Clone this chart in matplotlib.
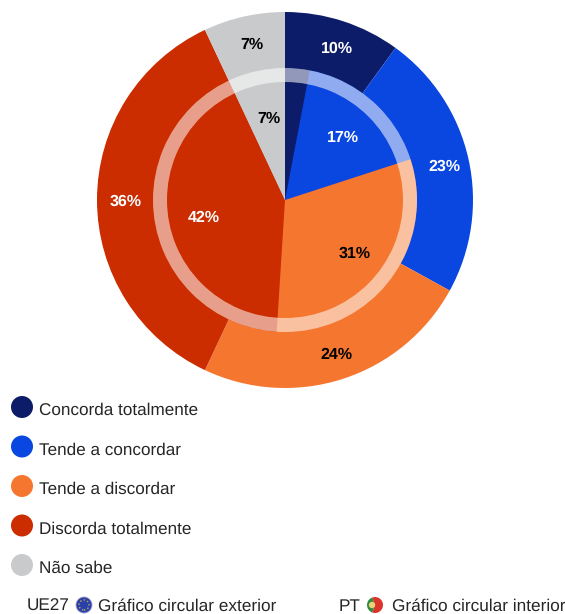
#!/usr/bin/env python

import matplotlib
matplotlib.use('Agg')
import matplotlib.pyplot as plt
from matplotlib.patches import Circle, Wedge

plt.rcParams['font.family'] = ['Liberation Sans', 'DejaVu Sans']
plt.rcParams['text.hinting'] = 'no_hinting'

categories = ['Concorda totalmente', 'Tende a concordar', 'Tende a discordar',
              'Discorda totalmente', 'Não sabe']
outer_values = [10, 23, 24, 36, 7]  # UE27
inner_values = [3, 17, 31, 42, 7]  # PT
colors = ['#0D1C68', '#0A46E0', '#F5762E', '#CB2C00', '#C9CACC']
label_colors = ['white', 'white', 'black', 'white', 'black']

W, H = 565, 614
CENTER = (285, H - 200)
TEXT = '#262626'


def pct_label(pct):
    # the 3% slice has no label in the original
    return '' if pct < 5 else '%.0f%%' % pct


def draw_pie(ax, values, radius, pctdistance):
    wedges, texts, autotexts = ax.pie(values, colors=colors, center=CENTER, radius=radius,
                                      startangle=90, counterclock=False, autopct=pct_label,
                                      pctdistance=pctdistance, frame=False,
                                      wedgeprops={'linewidth': 0})
    for t, c in zip(autotexts, label_colors):
        t.set_color(c)
        t.set_fontsize(11.5)
        t.set_fontweight('bold')
        x, y = t.get_position()
        t.set_position((x + 2, y - 2))


fig = plt.figure(figsize=(W / 100, H / 100), dpi=100)
ax = fig.add_axes([0, 0, 1, 1])

draw_pie(ax, outer_values, 188, 0.856)
draw_pie(ax, inner_values, 132, 0.644)

# pale ring on the rim of the inner pie, labels stay on top
ax.add_patch(Wedge(CENTER, 132, 0, 360, width=14, facecolor='white', alpha=0.55,
                   linewidth=0, zorder=2))

ax.set_xlim(0, W)
ax.set_ylim(0, H)
ax.set_aspect('equal')
ax.axis('off')

# legend
for i, (name, c) in enumerate(zip(categories, colors)):
    y = H - (407 + i * 39.5)
    ax.add_patch(Circle((22, y), 11, facecolor=c, linewidth=0))
    ax.text(39, y - 8, name, fontsize=12.3, color=TEXT, va='baseline', ha='left')

# footer with the little flags
foot_y = H - 605
base_y = H - 611
ax.text(27, base_y, 'UE27', fontsize=12.3, color=TEXT, va='baseline')
ax.add_patch(Circle((84, foot_y), 8, facecolor='#2B3FA8', edgecolor='#9AA0C8', linewidth=0.6))
ax.add_patch(Circle((84, foot_y), 5, facecolor='none', edgecolor='#B9B060', linewidth=1,
                    linestyle=':'))
ax.text(98, base_y, 'Gráfico circular exterior', fontsize=12.4, color=TEXT, va='baseline')

ax.text(339, base_y, 'PT', fontsize=12.3, color=TEXT, va='baseline')
ax.add_patch(Wedge((375, foot_y), 8, 110, 250, facecolor='#2E8B3D', linewidth=0))
ax.add_patch(Wedge((375, foot_y), 8, -110, 110, facecolor='#D9352B', linewidth=0))
ax.add_patch(Circle((372, foot_y), 3.2, facecolor='#E8D27A', linewidth=0))
ax.text(392, base_y, 'Gráfico circular interior', fontsize=12.4, color=TEXT, va='baseline')

fig.savefig('out.png', dpi=100)
